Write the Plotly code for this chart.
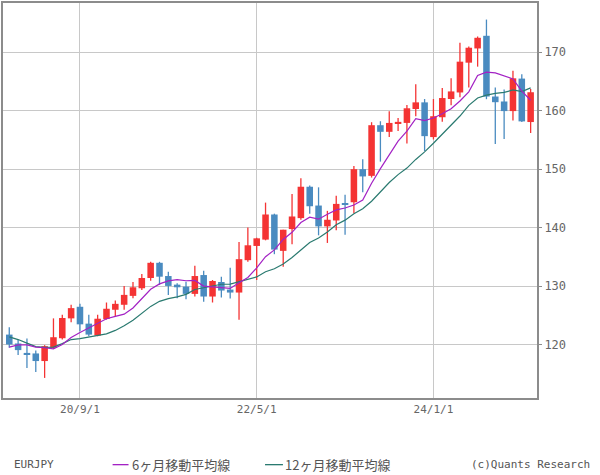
import plotly.graph_objects as go

# Monthly EURJPY candles, 2020/1 .. 2024/12 (index 0..59)
months = [f"{2020 + i // 12}/{i % 12 + 1}" for i in range(60)]

opens = [121.75, 120.23, 118.53, 118.53, 117.23, 119.49, 121.13, 124.52, 126.50, 123.62,
         121.58, 124.41, 125.99, 126.84, 128.36, 129.66, 131.41, 134.01, 131.75, 130.28,
         129.94, 128.70, 131.92, 128.25, 130.73, 129.44, 128.93, 134.46, 136.89, 137.97,
         142.26, 136.05, 139.77, 141.64, 147.00, 143.79, 140.23, 141.24, 144.12, 144.35,
         150.00, 148.86, 157.51, 156.38, 157.74, 157.90, 160.28, 161.41, 155.48, 158.87,
         161.98, 163.10, 168.19, 170.62, 172.78, 162.41, 161.56, 159.92, 165.47, 158.05]
highs = [123.00, 120.90, 121.07, 119.04, 119.94, 124.52, 125.14, 126.84, 127.00, 125.14,
         125.14, 127.23, 127.57, 130.06, 130.73, 132.09, 134.18, 134.18, 132.49, 130.50,
         130.79, 133.50, 132.66, 131.07, 131.64, 133.16, 137.57, 140.06, 138.30, 144.29,
         142.40, 139.66, 145.76, 148.47, 147.20, 146.90, 142.88, 145.48, 145.65, 150.56,
         151.70, 158.02, 158.19, 159.89, 158.76, 160.96, 164.52, 161.98, 161.98, 163.85,
         165.54, 171.59, 170.96, 172.66, 175.55, 163.94, 163.60, 166.83, 166.20, 163.71]
lows = [119.50, 118.25, 116.05, 115.37, 114.35, 119.30, 120.90, 123.84, 122.30, 121.47,
        121.47, 124.30, 124.86, 125.99, 127.97, 129.38, 130.96, 130.23, 128.53, 127.97,
        127.80, 128.25, 127.34, 127.23, 128.08, 127.91, 124.29, 134.18, 131.07, 137.85,
        135.48, 133.33, 137.18, 141.36, 142.37, 138.70, 137.40, 139.55, 138.80, 142.49,
        146.05, 148.57, 151.29, 155.48, 156.50, 154.40, 159.04, 153.10, 155.08, 158.08,
        160.90, 162.29, 163.94, 167.51, 161.95, 154.31, 155.16, 158.33, 158.05, 156.18]
closes = [120.06, 119.10, 118.42, 117.23, 119.77, 121.30, 124.58, 126.27, 123.50, 121.75,
          124.46, 126.16, 127.00, 128.53, 129.83, 131.41, 134.01, 131.64, 130.06, 129.83,
          128.70, 131.75, 128.25, 130.90, 129.27, 128.93, 134.63, 137.00, 138.19, 142.26,
          136.27, 139.66, 141.92, 147.00, 143.67, 140.23, 141.36, 144.07, 143.90, 150.00,
          148.76, 157.51, 156.38, 157.90, 158.08, 160.40, 161.41, 155.64, 159.04, 162.15,
          163.28, 168.36, 170.74, 172.44, 162.41, 161.44, 159.92, 165.52, 158.16, 163.14]

# Moving-average values for the first months (they rely on pre-2020 data)
ma6_start = [119.6, 120.0, 120.0, 119.6, 119.5]
ma12_start = [121.36, 120.9, 120.3, 119.7, 119.55, 119.6, 120.2, 120.9, 121.07, 121.3, 121.58]

tick_idx = [8, 28, 48]
tick_text = ["20/9/1", "22/5/1", "24/1/1"]
y_ticks = [120, 130, 140, 150, 160, 170]


def sma(vals, n, start):
    out = list(start)
    for i in range(len(start), len(vals)):
        out.append(sum(vals[i - n + 1:i + 1]) / n)
    return out


ma6 = sma(closes, 6, ma6_start)
ma12 = sma(closes, 12, ma12_start)

RED = "#f43434"
BLUE = "#4a8bc0"
PURPLE = "#a322c4"
TEAL = "#2a7a70"

x = list(range(len(months)))
up = [c >= o for o, c in zip(opens, closes)]

fig = go.Figure()

for is_up, col in ((True, RED), (False, BLUE)):
    wx, wy = [], []
    bx, bbase, bh = [], [], []
    for i in x:
        if up[i] != is_up:
            continue
        wx += [i, i, None]
        wy += [lows[i], highs[i], None]
        lo = min(opens[i], closes[i])
        hi = max(opens[i], closes[i])
        bx.append(i)
        bbase.append(lo)
        bh.append(max(hi - lo, 0.2))
    fig.add_trace(go.Scatter(x=wx, y=wy, mode="lines", line=dict(color=col, width=1.3),
                             hoverinfo="skip"))
    fig.add_trace(go.Bar(x=bx, y=bh, base=bbase, width=0.74, marker=dict(color=col, line=dict(width=0))))

fig.add_trace(go.Scatter(x=x, y=ma12, mode="lines", line=dict(color=TEAL, width=1.2)))
fig.add_trace(go.Scatter(x=x, y=ma6, mode="lines", line=dict(color=PURPLE, width=1.2)))

L, R, T, B = 1, 63, 1, 77
PW = 600 - L - R
PH = 475 - T - B


def px(xp):
    return (xp - L) / PW


def py(yp):
    return (475 - B - yp) / PH


fig.update_layout(
    width=600, height=475,
    margin=dict(l=L, r=R, t=T, b=B),
    plot_bgcolor="white", paper_bgcolor="white",
    showlegend=False, barmode="overlay",
    xaxis=dict(range=[-0.71, 59.72], tickmode="array", tickvals=tick_idx, ticktext=tick_text,
               showgrid=True, gridcolor="#c8c8c8", gridwidth=1, zeroline=False,
               showline=True, linecolor="#8c8c8c", linewidth=2, mirror=True, ticks="",
               tickfont=dict(family="DejaVu Sans Mono", size=11, color="#666666")),
    yaxis=dict(range=[110.92, 178.38], side="right", tickmode="array", tickvals=y_ticks,
               showgrid=True, gridcolor="#c8c8c8", gridwidth=1, zeroline=False,
               showline=True, linecolor="#8c8c8c", linewidth=2, mirror=True,
               ticks="outside", ticklen=3, tickcolor="#8c8c8c",
               tickfont=dict(family="DejaVu Sans Mono", size=12, color="#666666")),
)

ly = 465
font_lat = dict(family="DejaVu Sans Mono", size=11, color="#555555")
font_jp = dict(family="Noto Sans CJK JP", size=13, color="#555555")
anns = [
    dict(text="EURJPY", x=px(10), xanchor="left", font=font_lat),
    dict(text="6ヶ月移動平均線", x=px(128), xanchor="left", font=font_jp),
    dict(text="12ヶ月移動平均線", x=px(282), xanchor="left", font=font_jp),
    dict(text="(c)Quants Research", x=px(592), xanchor="right", font=font_lat),
]
for a in anns:
    fig.add_annotation(xref="paper", yref="paper", y=py(ly), yanchor="middle",
                       showarrow=False, **a)

fig.add_shape(type="line", xref="paper", yref="paper", x0=px(111), x1=px(127), y0=py(ly), y1=py(ly),
              line=dict(color=PURPLE, width=1.3))
fig.add_shape(type="line", xref="paper", yref="paper", x0=px(264), x1=px(282), y0=py(ly), y1=py(ly),
              line=dict(color=TEAL, width=1.3))

fig.write_html("out.html")
